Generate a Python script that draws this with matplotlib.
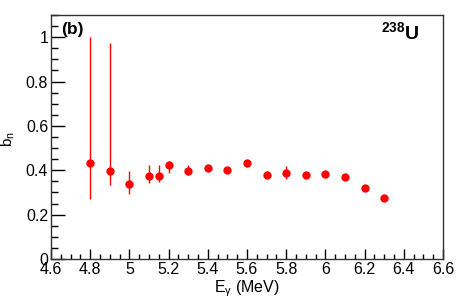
import matplotlib
matplotlib.use("Agg")
import matplotlib.pyplot as plt
import numpy as np
from matplotlib.ticker import MultipleLocator

plt.rcParams['font.family'] = ['Liberation Sans', 'DejaVu Sans']
plt.rcParams['mathtext.fontset'] = 'custom'
plt.rcParams['mathtext.rm'] = 'Liberation Sans'
plt.rcParams['mathtext.it'] = 'Liberation Sans'
plt.rcParams['mathtext.bf'] = 'Liberation Sans:bold'

energy = [4.8, 4.9, 5.0, 5.1, 5.15, 5.2, 5.3, 5.4, 5.5, 5.6, 5.7, 5.8, 5.9, 6.0, 6.1, 6.2, 6.3]
bn = [0.434, 0.398, 0.339, 0.375, 0.375, 0.422, 0.396, 0.410, 0.401, 0.431, 0.377, 0.387, 0.377, 0.384, 0.368, 0.321, 0.275]
err_up = [0.566, 0.577, 0.056, 0.051, 0.051, 0.020, 0.030, 0.010, 0.010, 0.010, 0.020, 0.032, 0.010, 0.010, 0.010, 0.010, 0.010]
err_lo = [0.162, 0.065, 0.048, 0.034, 0.030, 0.036, 0.016, 0.010, 0.010, 0.010, 0.010, 0.027, 0.010, 0.010, 0.010, 0.010, 0.010]
xtick_vals = [4.6, 4.8, 5.0, 5.2, 5.4, 5.6, 5.8, 6.0, 6.2, 6.4, 6.6]
xtick_labels = ['4.6', '4.8', '5', '5.2', '5.4', '5.6', '5.8', '6', '6.2', '6.4', '6.6']
ytick_vals = [0, 0.2, 0.4, 0.6, 0.8, 1.0]
ytick_labels = ['0', '0.2', '0.4', '0.6', '0.8', '1']

fig = plt.figure(figsize=(4.67, 2.99), dpi=100)
ax = fig.add_axes([51/467, 1 - 259/299, (443-51)/467, (259-15)/299])

ax.errorbar(energy, bn, yerr=[err_lo, err_up], fmt='o', color='#ff0000',
            ecolor='#ff0000', elinewidth=1.0, capsize=1.0, markersize=6.0,
            markeredgewidth=0)

ax.set_xlim(4.6, 6.6)
ax.set_ylim(0, 1.1)
ax.set_xticks(xtick_vals)
ax.set_xticklabels(xtick_labels)
ax.set_yticks(ytick_vals)
ax.set_yticklabels(ytick_labels)
ax.xaxis.set_minor_locator(MultipleLocator(0.05))
ax.yaxis.set_minor_locator(MultipleLocator(0.05))

ax.tick_params(axis='x', which='major', direction='in', length=7, width=1, labelsize=11.5, pad=2)
ax.tick_params(axis='x', which='minor', direction='in', length=3.5, width=1)
ax.tick_params(axis='y', which='major', direction='in', length=10, width=1, labelsize=11.5, pad=2)
ax.tick_params(axis='y', which='minor', direction='in', length=5, width=1)
for s in ax.spines.values():
    s.set_linewidth(1)
    s.set_color('#333333')

ax.set_xlabel(r'E$_{\gamma}$ (MeV)', fontsize=11.5, labelpad=1)
ax.set_ylabel(r'b$_{\rm n}$', fontsize=11)
ax.yaxis.set_label_coords(-0.087, 0.49)

ax.text(0.025, 0.97, '(b)', transform=ax.transAxes, fontsize=12.5, fontweight='bold',
        va='top', ha='left')
ax.text(0.94, 0.975, r'$^{\mathbf{238}}$U', transform=ax.transAxes, fontsize=14,
        fontweight='bold', va='top', ha='right')

fig.savefig('out.png', dpi=100)
